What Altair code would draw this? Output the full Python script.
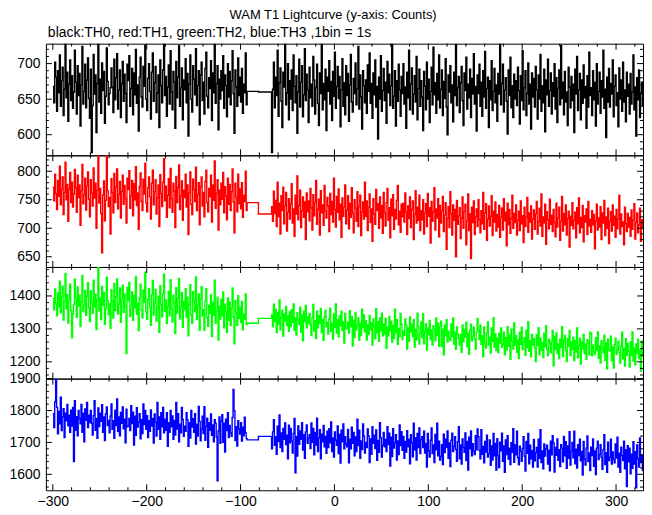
import altair as alt
import pandas as pd

# ---------------- data (1 s bins) ----------------
T0_A = -300          # first bin of the first segment
T0_B = -67           # first bin of the second segment
GAP_T = [-93, -81]   # two wide bins covering the data gap

TH0_A = [
    668, 645, 702, 681, 633, 690, 659, 712, 640, 676, 695, 627, 664, 731, 652, 688, 619, 671, 705, 648,
    683, 637, 660, 719, 674, 629, 697, 655, 686, 612, 670, 724, 643, 661, 699, 638, 677, 708, 651, 623,
    692, 575, 641, 713, 657, 684, 603, 672, 739, 646, 678, 630, 701, 662, 689, 616, 654, 722, 675, 642,
    658, 666, 694, 667, 631, 706, 649, 680, 714, 636, 663, 691, 624, 672, 703, 647, 685, 658, 617, 699,
    676, 711, 640, 665, 693, 628, 687, 656, 720, 644, 670, 605, 681, 709, 653, 639, 696, 668, 726, 650,
    634, 679, 700, 661, 622, 688, 715, 647, 673, 696, 631, 659, 684, 610, 705, 669, 645, 691, 737, 655,
    682, 626, 667, 698, 643, 718, 660, 635, 689, 674, 609, 703, 652, 681, 725, 640, 666, 694, 621, 677,
    663, 707, 645, 686, 598, 671, 712, 650, 632, 697, 678, 656, 721, 641, 669, 690, 614, 684, 702, 648,
    674, 629, 693, 716, 654, 638, 680, 665, 704, 620, 687, 659, 733, 644, 672, 697, 607, 678, 650, 690,
    662, 711, 637, 684, 669, 625, 700, 653, 689, 642, 676, 718, 658, 602, 691, 667, 640, 708, 655, 681,
    646, 693, 630, 671, 659, 715, 642,
]
TH0_GAP = [661, 660]
TH0_B = [
    575, 664, 702, 638, 681, 655, 719, 626, 673, 694, 647, 610, 688, 667, 733, 642, 659, 700, 621, 676,
    650, 691, 634, 712, 668, 645, 683, 602, 660, 706, 639, 674, 697, 625, 656, 721, 648, 685, 663, 617,
    695, 652, 671, 640, 710, 677, 629, 666, 699, 644, 613, 687, 658, 730, 635, 672, 649, 692, 606, 681,
    661, 704, 643, 675, 620, 689, 654, 716, 637, 668, 696, 651, 682, 611, 663, 707, 640, 673, 628, 697,
    655, 686, 619, 670, 713, 646, 632, 679, 658, 701, 642, 665, 724, 636, 684, 653, 608, 690, 669, 645,
    677, 630, 698, 661, 715, 644, 672, 623, 687, 656, 705, 639, 668, 594, 681, 650, 711, 633, 662, 693,
    648, 674, 616, 703, 659, 685, 641, 669, 728, 637, 654, 690, 612, 676, 647, 699, 663, 626, 682, 658,
    700, 643, 667, 609, 688, 652, 719, 635, 671, 694, 629, 657, 683, 646, 710, 621, 665, 692, 640, 676,
    653, 606, 689, 668, 635, 702, 650, 678, 617, 661, 695, 642, 723, 656, 673, 630, 686, 649, 712, 638,
    664, 691, 627, 675, 651, 707, 639, 600, 684, 660, 697, 645, 670, 618, 688, 655, 733, 641, 666, 682,
    631, 673, 696, 648, 613, 687, 662, 709, 636, 671, 652, 692, 624, 679, 657, 714, 643, 668, 605, 684,
    658, 699, 640, 674, 626, 690, 653, 717, 637, 665, 681, 610, 676, 649, 704, 634, 661, 693, 645, 670,
    619, 686, 657, 728, 642, 672, 699, 632, 663, 680, 647, 601, 691, 655, 709, 638, 669, 624, 685, 650,
    676, 641, 695, 662, 615, 683, 648, 718, 635, 666, 690, 627, 658, 701, 643, 671, 608, 687, 653, 679,
    639, 696, 663, 622, 684, 650, 713, 633, 669, 645, 692, 604, 677, 656, 706, 640, 662, 687, 629, 673,
    654, 700, 636, 680, 617, 665, 691, 642, 725, 651, 674, 628, 689, 646, 660, 613, 695, 667, 638, 682,
    648, 671, 603, 692, 657, 710, 634, 663, 686, 621, 677, 644, 698, 652, 668, 609, 683, 639, 716, 655,
    666, 627, 690, 649, 674, 612, 700, 643, 661, 688, 630, 676, 653, 719, 637, 664, 596, 681, 646, 693,
    639, 672, 657, 705, 625, 668, 684, 641, 659, 611, 694, 650, 677, 633, 702, 646, 663, 618, 688, 654,
    671, 629, 686, 643, 660, 712, 635, 667, 598, 680, 649, 691, 624, 658, 674, 640,
]

TH1_A = [
    772, 748, 795, 761, 733, 784, 756, 809, 741, 768, 790, 724, 763, 816, 750, 777, 712, 769, 798, 745,
    781, 737, 760, 803, 771, 728, 793, 754, 776, 705, 766, 812, 743, 759, 788, 732, 774, 799, 751, 720,
    785, 762, 739, 806, 753, 779, 700, 767, 831, 744, 770, 726, 657, 758, 783, 713, 749, 835, 766, 738,
    754, 690, 787, 763, 727, 796, 745, 772, 804, 734, 759, 782, 718, 765, 793, 742, 775, 752, 709, 788,
    768, 801, 735, 757, 784, 722, 778, 750, 808, 740, 762, 698, 773, 797, 747, 731, 786, 760, 814, 744,
    729, 771, 790, 755, 716, 779, 802, 741, 764, 785, 725, 753, 776, 703, 794, 761, 738, 781, 822, 748,
    774, 719, 758, 787, 736, 805, 752, 728, 779, 765, 701, 791, 745, 771, 811, 733, 757, 783, 714, 767,
    754, 795, 737, 776, 689, 762, 799, 742, 724, 786, 768, 747, 807, 731, 759, 780, 706, 773, 790, 739,
    763, 720, 782, 802, 745, 729, 770, 755, 793, 711, 776, 749, 818, 735, 761, 785, 697, 767, 741, 779,
    751, 798, 727, 773, 757, 715, 788, 742, 777, 731, 764, 804, 746, 692, 779, 755, 729, 795, 743, 769,
    734, 780, 719, 758, 747, 800, 731,
]
TH1_GAP = [745, 725]
TH1_B = [
    738, 712, 765, 726, 749, 703, 781, 720, 744, 690, 757, 731, 772, 708, 739, 763, 695, 728, 752, 716,
    743, 778, 709, 734, 686, 758, 725, 792, 715, 740, 767, 701, 731, 755, 719, 746, 680, 762, 729, 748,
    713, 770, 736, 697, 759, 722, 745, 784, 707, 733, 751, 688, 766, 727, 741, 705, 775, 730, 718, 754,
    739, 694, 761, 724, 747, 711, 788, 733, 702, 756, 728, 769, 715, 742, 684, 753, 721, 737, 776, 708,
    732, 757, 699, 744, 719, 771, 726, 692, 750, 735, 712, 764, 703, 738, 758, 687, 729, 746, 716, 781,
    721, 748, 696, 737, 760, 710, 734, 677, 752, 725, 707, 768, 731, 743, 700, 755, 718, 740, 691, 763,
    727, 704, 745, 770, 714, 736, 683, 751, 722, 759, 698, 733, 716, 749, 775, 706, 730, 693, 742, 720,
    744, 711, 762, 728, 689, 739, 717, 755, 701, 733, 748, 680, 724, 766, 709, 737, 714, 758, 696, 731,
    715, 750, 690, 727, 743, 703, 761, 721, 736, 674, 747, 712, 729, 771, 697, 734, 718, 752, 685, 740,
    709, 730, 756, 694, 723, 745, 663, 717, 738, 701, 764, 726, 688, 741, 714, 733, 650, 749, 707, 722,
    736, 682, 718, 755, 700, 729, 742, 671, 713, 760, 696, 725, 647, 737, 710, 748, 689, 720, 734, 703,
    750, 715, 692, 731, 708, 763, 698, 727, 743, 679, 716, 739, 704, 721, 757, 687, 730, 711, 746, 695,
    724, 702, 740, 684, 719, 735, 697, 752, 713, 728, 669, 744, 706, 733, 691, 717, 758, 700, 726, 710,
    741, 688, 714, 730, 696, 748, 708, 722, 675, 737, 703, 719, 754, 693, 727, 711, 739, 681, 716, 732,
    698, 725, 747, 690, 712, 735, 704, 760, 686, 720, 709, 742, 672, 729, 715, 699, 751, 707, 723, 694,
    733, 710, 685, 744, 702, 718, 737, 679, 713, 756, 695, 726, 706, 741, 688, 717, 730, 667, 721, 705,
    745, 699, 714, 728, 683, 736, 708, 753, 692, 719, 701, 740, 676, 722, 711, 734, 689, 747, 704, 716,
    693, 731, 706, 724, 664, 713, 742, 697, 718, 702, 738, 680, 727, 709, 749, 687, 720, 700, 735, 673,
    712, 729, 695, 741, 705, 721, 684, 733, 699, 716, 758, 690, 725, 703, 711, 671, 737, 708, 694, 726,
    702, 719, 686, 732, 698, 714, 743, 681, 710, 727, 692, 706, 735, 677, 715, 700,
]

TH2_A = [
    1392, 1358, 1421, 1376, 1340, 1409, 1367, 1445, 1349, 1398, 1430, 1327, 1383, 1468, 1361, 1404, 1318, 1387, 1436, 1355,
    1273, 1346, 1374, 1451, 1395, 1335, 1427, 1369, 1402, 1307, 1381, 1462, 1352, 1371, 1417, 1341, 1399, 1440, 1363, 1322,
    1415, 1380, 1347, 1448, 1366, 1405, 1298, 1388, 1490, 1354, 1393, 1328, 1429, 1372, 1411, 1314, 1360, 1457, 1386, 1343,
    1377, 1302, 1419, 1384, 1333, 1438, 1356, 1397, 1452, 1345, 1375, 1424, 1320, 1389, 1433, 1350, 1406, 1368, 1225, 1426,
    1385, 1441, 1338, 1370, 1412, 1326, 1401, 1364, 1459, 1344, 1378, 1295, 1394, 1436, 1357, 1334, 1418, 1381, 1472, 1351,
    1329, 1390, 1423, 1365, 1311, 1404, 1447, 1342, 1379, 1420, 1324, 1362, 1399, 1290, 1431, 1373, 1337, 1408, 1466, 1353,
    1388, 1316, 1368, 1414, 1340, 1449, 1361, 1321, 1402, 1380, 1286, 1425, 1348, 1391, 1453, 1331, 1366, 1410, 1305, 1383,
    1359, 1422, 1336, 1396, 1279, 1374, 1434, 1343, 1317, 1413, 1385, 1352, 1458, 1328, 1370, 1406, 1296, 1392, 1428, 1339,
    1358, 1296, 1385, 1422, 1334, 1308, 1372, 1347, 1403, 1277, 1380, 1341, 1448, 1317, 1354, 1396, 1266, 1369, 1330, 1390,
    1340, 1412, 1303, 1375, 1352, 1289, 1394, 1326, 1382, 1310, 1363, 1424, 1335, 1255, 1386, 1348, 1311, 1401, 1332, 1367,
    1319, 1383, 1297, 1345, 1329, 1406, 1313,
]
TH2_GAP = [1317, 1332]
TH2_B = [
    1342, 1306, 1375, 1322, 1360, 1289, 1349, 1315, 1388, 1297, 1334, 1357, 1278, 1345, 1324, 1368, 1310, 1339, 1293, 1352,
    1307, 1358, 1320, 1376, 1296, 1333, 1281, 1349, 1327, 1313, 1366, 1290, 1342, 1264, 1354, 1322, 1371, 1303, 1336, 1316,
    1347, 1312, 1280, 1333, 1374, 1293, 1325, 1271, 1354, 1303, 1340, 1317, 1362, 1288, 1329, 1265, 1337, 1356, 1306, 1320,
    1284, 1330, 1363, 1293, 1317, 1269, 1345, 1304, 1376, 1287, 1327, 1276, 1339, 1310, 1354, 1295, 1321, 1257, 1348, 1300,
    1300, 1320, 1287, 1355, 1306, 1338, 1248, 1326, 1274, 1350, 1297, 1311, 1333, 1265, 1317, 1280, 1360, 1304, 1342, 1291,
    1325, 1266, 1312, 1283, 1341, 1297, 1318, 1251, 1330, 1307, 1270, 1361, 1288, 1322, 1262, 1333, 1295, 1348, 1279, 1315,
    1284, 1332, 1241, 1305, 1279, 1338, 1294, 1323, 1260, 1311, 1271, 1360, 1288, 1329, 1253, 1301, 1277, 1347, 1314, 1268,
    1294, 1280, 1330, 1311, 1239, 1303, 1262, 1336, 1291, 1314, 1277, 1328, 1245, 1299, 1267, 1348, 1307, 1254, 1286, 1321,
    1273, 1346, 1255, 1292, 1315, 1236, 1303, 1282, 1326, 1268, 1297, 1251, 1310, 1300, 1264, 1333, 1280, 1318, 1247, 1307,
    1323, 1247, 1299, 1221, 1311, 1279, 1328, 1260, 1293, 1273, 1264, 1315, 1277, 1333, 1253, 1290, 1238, 1306, 1284, 1270,
    1251, 1283, 1229, 1312, 1261, 1298, 1275, 1320, 1246, 1287, 1223, 1295, 1314, 1264, 1278, 1305, 1270, 1238, 1291, 1332,
    1297, 1268, 1312, 1253, 1279, 1215, 1306, 1258, 1242, 1288, 1321, 1251, 1275, 1227, 1303, 1262, 1334, 1245, 1285, 1234,
    1272, 1228, 1286, 1257, 1303, 1244, 1254, 1290, 1221, 1274, 1236, 1307, 1247, 1281, 1208, 1299, 1262, 1239, 1318, 1251,
    1279, 1228, 1266, 1210, 1290, 1253, 1305, 1237, 1259, 1273, 1220, 1296, 1244, 1322, 1232, 1264, 1215, 1283, 1250, 1270,
    1242, 1201, 1282, 1250, 1304, 1221, 1272, 1235, 1258, 1213, 1287, 1246, 1310, 1238, 1219, 1269, 1255, 1228, 1263, 1295,
    1188, 1277, 1237, 1288, 1225, 1254, 1210, 1269, 1243, 1307, 1216, 1264, 1280, 1234, 1201, 1271, 1247, 1295, 1219, 1260,
    1237, 1275, 1204, 1264, 1230, 1303, 1212, 1249, 1272, 1193, 1260, 1239, 1283, 1225, 1254, 1208, 1267, 1257, 1221, 1290,
    1286, 1218, 1251, 1231, 1222, 1273, 1235, 1291, 1211, 1248, 1196, 1264, 1242, 1228, 1281, 1205, 1257, 1179, 1269, 1237,
    1233, 1278, 1204, 1245, 1181, 1253, 1272, 1222, 1236, 1263, 1228, 1196, 1249, 1290, 1209, 1241, 1187, 1270, 1219, 1256,
    1232, 1184, 1260, 1219, 1291, 1202, 1242, 1191, 1254, 1225, 1269, 1210, 1236, 1172, 1263, 1215,
]

TH3_A = [
    1790, 1747, 1827, 1905, 1810, 1727, 1797, 1758, 1842, 1737, 1780, 1806, 1715, 1792, 1768, 1819, 1752, 1785, 1732, 1801,
    1751, 1810, 1640, 1831, 1738, 1781, 1721, 1800, 1774, 1758, 1819, 1732, 1792, 1702, 1805, 1769, 1825, 1747, 1785, 1762,
    1800, 1760, 1723, 1784, 1831, 1738, 1775, 1713, 1808, 1750, 1792, 1766, 1818, 1732, 1780, 1706, 1789, 1811, 1753, 1769,
    1730, 1783, 1821, 1741, 1768, 1713, 1801, 1753, 1836, 1734, 1780, 1721, 1794, 1760, 1811, 1743, 1773, 1699, 1804, 1749,
    1752, 1775, 1737, 1815, 1759, 1795, 1692, 1782, 1722, 1809, 1748, 1764, 1790, 1711, 1771, 1728, 1821, 1756, 1800, 1741,
    1784, 1715, 1768, 1735, 1802, 1751, 1775, 1698, 1789, 1763, 1720, 1825, 1741, 1780, 1710, 1793, 1749, 1810, 1730, 1773,
    1738, 1793, 1688, 1762, 1732, 1800, 1749, 1783, 1710, 1769, 1723, 1825, 1742, 1790, 1702, 1757, 1730, 1810, 1772, 1719,
    1751, 1735, 1793, 1771, 1688, 1762, 1714, 1800, 1748, 1774, 1732, 1790, 1695, 1757, 1720, 1813, 1766, 1705, 1742, 1782,
    1728, 1812, 1707, 1750, 1776, 1685, 1762, 1738, 1789, 1722, 1755, 1702, 1771, 1760, 1717, 1580, 1736, 1780, 1697, 1767,
    1787, 1700, 1760, 1670, 1773, 1737, 1793, 1715, 1753, 1730, 1719, 1778, 1866, 1799, 1706, 1749, 1689, 1768, 1742, 1726,
    1762, 1704, 1748, 1721, 1779, 1730, 1712,
]
TH3_GAP = [1708, 1719]
TH3_B = [
    1680, 1733, 1771, 1691, 1718, 1663, 1751, 1703, 1786, 1684, 1730, 1671, 1744, 1710, 1761, 1693, 1723, 1649, 1754, 1699,
    1744, 1704, 1667, 1728, 1775, 1605, 1719, 1657, 1752, 1694, 1736, 1710, 1762, 1676, 1724, 1650, 1733, 1755, 1697, 1713,
    1724, 1681, 1761, 1700, 1744, 1661, 1731, 1692, 1776, 1671, 1714, 1740, 1649, 1726, 1702, 1753, 1686, 1719, 1666, 1735,
    1684, 1743, 1699, 1764, 1671, 1714, 1654, 1733, 1707, 1691, 1752, 1665, 1725, 1635, 1738, 1702, 1758, 1680, 1718, 1695,
    1686, 1741, 1636, 1710, 1680, 1748, 1697, 1731, 1658, 1717, 1671, 1773, 1690, 1738, 1650, 1705, 1678, 1758, 1720, 1667,
    1700, 1684, 1742, 1720, 1637, 1711, 1663, 1749, 1697, 1723, 1681, 1739, 1644, 1706, 1669, 1762, 1715, 1654, 1691, 1731,
    1686, 1709, 1671, 1749, 1693, 1729, 1626, 1716, 1656, 1743, 1682, 1698, 1724, 1645, 1705, 1662, 1755, 1690, 1734, 1675,
    1719, 1650, 1703, 1670, 1737, 1686, 1710, 1633, 1724, 1698, 1655, 1760, 1676, 1715, 1645, 1728, 1684, 1745, 1665, 1708,
    1718, 1684, 1735, 1667, 1697, 1623, 1728, 1673, 1654, 1707, 1745, 1665, 1692, 1637, 1725, 1677, 1760, 1658, 1704, 1645,
    1656, 1693, 1631, 1726, 1668, 1710, 1684, 1736, 1650, 1698, 1624, 1707, 1729, 1671, 1687, 1718, 1678, 1641, 1702, 1749,
    1649, 1692, 1632, 1711, 1685, 1669, 1730, 1643, 1703, 1613, 1716, 1680, 1736, 1658, 1696, 1673, 1662, 1721, 1677, 1742,
    1718, 1675, 1649, 1740, 1663, 1687, 1636, 1703, 1670, 1723, 1654, 1665, 1708, 1628, 1689, 1645, 1728, 1658, 1697, 1613,
    1712, 1659, 1621, 1701, 1674, 1729, 1641, 1689, 1606, 1708, 1662, 1721, 1648, 1682, 1631, 1699, 1669, 1743, 1638, 1693,
    1661, 1735, 1652, 1630, 1688, 1672, 1641, 1681, 1718, 1657, 1610, 1703, 1666, 1728, 1633, 1691, 1649, 1675, 1623, 1709,
    1642, 1668, 1684, 1623, 1710, 1650, 1740, 1637, 1673, 1617, 1695, 1657, 1680, 1691, 1632, 1676, 1611, 1704, 1661, 1721,
    1698, 1607, 1684, 1660, 1711, 1644, 1677, 1624, 1693, 1682, 1639, 1719, 1658, 1702, 1619, 1689, 1650, 1734, 1629, 1672,
    1700, 1652, 1735, 1633, 1679, 1620, 1693, 1659, 1710, 1642, 1672, 1598, 1703, 1648, 1629, 1682, 1720, 1640, 1667, 1612,
    1685, 1659, 1711, 1625, 1673, 1599, 1682, 1704, 1646, 1662, 1693, 1653, 1616, 1677, 1724, 1631, 1668, 1606, 1701, 1643,
    1654, 1710, 1632, 1670, 1647, 1636, 1695, 1651, 1716, 1623, 1666, 1606, 1685, 1659, 1643, 1704, 1617, 1677, 1562, 1690,
    1639, 1682, 1602, 1663, 1619, 1702, 1632, 1671, 1558, 1692, 1649, 1623, 1714, 1637, 1661, 1610,
]

# panel y ranges and tick values
Y_DOMAINS = [[571, 728], [632, 828], [1149, 1488], [1550, 1900]]
Y_MAJOR = [[600, 650, 700], [650, 700, 750, 800], [1200, 1300, 1400], [1600, 1700, 1800, 1900]]
Y_MINOR = [
    list(range(580, 721, 10)),
    list(range(640, 821, 10)),
    list(range(1160, 1481, 20)),
    list(range(1560, 1901, 20)),
]
X_DOMAIN = [-307.4, 328.7]
X_MAJOR = [-300, -200, -100, 0, 100, 200, 300]
X_MINOR = list(range(-300, 321, 20))
COLORS = ["#000000", "#ff0000", "#00ff00", "#0000ff"]

TITLE = "WAM T1 Lightcurve (y-axis: Counts)"
SUBTITLE = "black:TH0, red:TH1, green:TH2, blue:TH3 ,1bin = 1s"

W, H = 599, 112
FONT = "Liberation Sans"


def series_frame(a, gap, b):
    t = list(range(T0_A, T0_A + len(a))) + GAP_T + list(range(T0_B, T0_B + len(b)))
    return pd.DataFrame({"t": t, "c": a + gap + b})


SERIES = [
    series_frame(TH0_A, TH0_GAP, TH0_B),
    series_frame(TH1_A, TH1_GAP, TH1_B),
    series_frame(TH2_A, TH2_GAP, TH2_B),
    series_frame(TH3_A, TH3_GAP, TH3_B),
]


def panel(i, bottom=False, title=None):
    xs = alt.Scale(domain=X_DOMAIN, nice=False, zero=False)
    ys = alt.Scale(domain=Y_DOMAINS[i], nice=False, zero=False)
    if bottom:
        xaxis = alt.Axis(values=X_MAJOR, ticks=False, tickSize=0, domain=False, grid=False,
                         labelFlush=False, labelPadding=4, labelFontSize=14, title=None,
                         labelFont=FONT, labelColor="black", format="d")
    else:
        xaxis = alt.Axis(labels=False, ticks=False, domain=False, grid=False, title=None,
                         values=X_MAJOR)
    yaxis = alt.Axis(values=Y_MAJOR[i], ticks=False, tickSize=0, domain=False, grid=False,
                     labelPadding=6, labelFontSize=14, title=None, labelFont=FONT,
                     labelColor="black", minExtent=37, labelOverlap=False,
                     labelFlush=False, format="d")

    line = alt.Chart(SERIES[i]).mark_line(
        interpolate="step-after", color=COLORS[i], strokeWidth=1.4, clip=True
    ).encode(
        x=alt.X("t:Q", scale=xs, axis=xaxis, title=None),
        y=alt.Y("c:Q", scale=ys, axis=yaxis, title=None),
    )

    layers = [line]
    xmaj = pd.DataFrame({"t": X_MAJOR})
    xmin = pd.DataFrame({"t": [v for v in X_MINOR if v not in X_MAJOR]})
    ymaj = pd.DataFrame({"c": Y_MAJOR[i]})
    ymin = pd.DataFrame({"c": [v for v in Y_MINOR[i] if v not in Y_MAJOR[i]]})
    for df, ln in ((xmaj, 6), (xmin, 3)):
        for y0, y1 in ((0, ln), (H, H - ln)):
            layers.append(
                alt.Chart(df).mark_rule(color="black", strokeWidth=1).encode(
                    x=alt.X("t:Q", scale=xs, axis=xaxis, title=None),
                    y=alt.value(y0), y2=alt.value(y1),
                )
            )
    for df, ln in ((ymaj, 6), (ymin, 3)):
        for x0, x1 in ((0, ln), (W, W - ln)):
            layers.append(
                alt.Chart(df).mark_rule(color="black", strokeWidth=1).encode(
                    y=alt.Y("c:Q", scale=ys, axis=yaxis, title=None),
                    x=alt.value(x0), x2=alt.value(x1),
                )
            )
    ch = alt.layer(*layers).properties(width=W, height=H)
    if title is not None:
        ch = ch.properties(title=title)
    return ch


sub = alt.TitleParams(SUBTITLE, anchor="start", frame="group", fontSize=14, font=FONT,
                      fontWeight="normal", color="black", offset=3, dx=2)

chart = alt.vconcat(
    panel(0, title=sub), panel(1), panel(2), panel(3, bottom=True), spacing=0, bounds="flush"
).properties(
    title=alt.TitleParams(TITLE, anchor="middle", fontSize=13, font=FONT, fontWeight="normal",
                          color="black", offset=4, dx=7),
    padding={"left": 0, "top": 0, "right": 0, "bottom": 0},
    background="white",
).configure_view(stroke="black", strokeWidth=1).configure_concat(spacing=0)

chart.save("out.html", embed_options={"renderer": "svg", "actions": False})
